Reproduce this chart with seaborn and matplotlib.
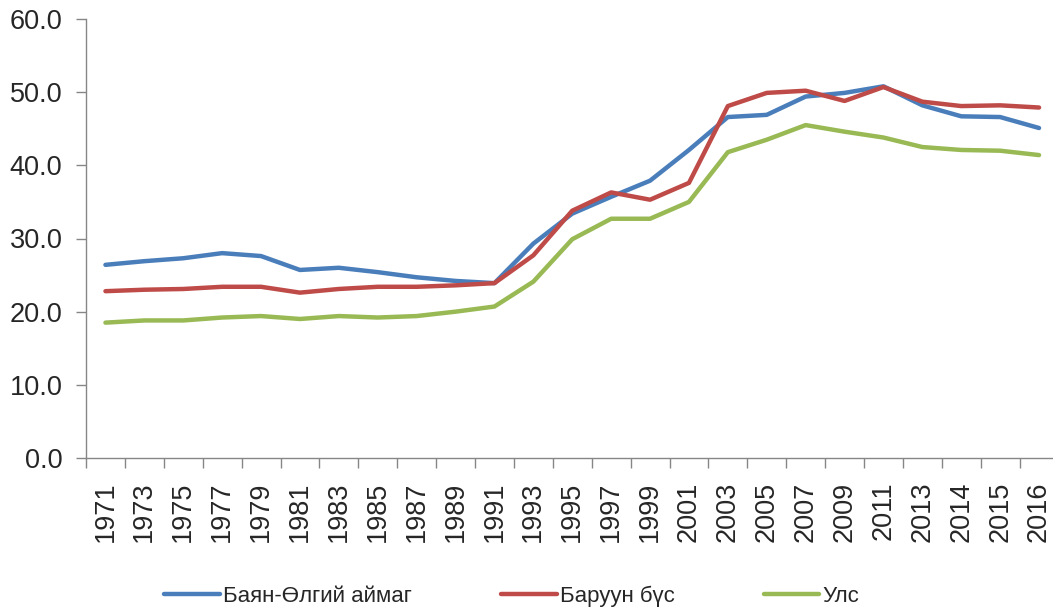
import numpy as np
import pandas as pd
import seaborn as sns
import matplotlib.pyplot as plt
from matplotlib.ticker import FixedLocator

# ---------------------- Data ------------------------
years = ["1971", "1973", "1975", "1977", "1979", "1981", "1983", "1985", "1987",
         "1989", "1991", "1993", "1995", "1997", "1999", "2001", "2003", "2005",
         "2007", "2009", "2011", "2013", "2014", "2015", "2016"]

bayan_ulgii = [26.4, 26.9, 27.3, 28.0, 27.6, 25.7, 26.0, 25.4, 24.7, 24.2, 23.9,
               29.3, 33.4, 35.7, 37.9, 42.1, 46.6, 46.9, 49.4, 49.9, 50.8,
               48.2, 46.7, 46.6, 45.1]

baruun_bus = [22.8, 23.0, 23.1, 23.4, 23.4, 22.6, 23.1, 23.4, 23.4, 23.6, 23.9,
              27.7, 33.8, 36.3, 35.3, 37.6, 48.1, 49.9, 50.2, 48.8, 50.7,
              48.7, 48.1, 48.2, 47.9]

uls = [18.5, 18.8, 18.8, 19.2, 19.4, 19.0, 19.4, 19.2, 19.4, 20.0, 20.7,
       24.1, 29.9, 32.7, 32.7, 35.0, 41.8, 43.5, 45.5, 44.6, 43.8,
       42.5, 42.1, 42.0, 41.4]

series_names = ["Баян-Өлгий аймаг", "Баруун бүс", "Улс"]
colors = ["#4A7EBB", "#BE4B48", "#98B954"]

df = pd.DataFrame({
    "year": years * 3,
    "value": bayan_ulgii + baruun_bus + uls,
    "series": np.repeat(series_names, len(years)),
})

# ------------------ Plot ----------------------
sns.set_style("white")
plt.rcParams["font.family"] = ["Liberation Sans", "DejaVu Sans"]

fig = plt.figure(figsize=(10.53, 6.07), dpi=100)
ax = fig.add_axes([86 / 1053, 149 / 607, 972.5 / 1053, 439 / 607])

sns.lineplot(data=df, x="year", y="value", hue="series", hue_order=series_names,
             palette=colors, linewidth=3.2, sort=False, ax=ax)

n = len(years)
ax.set_xlim(-0.5, n - 0.5)
ax.set_ylim(0, 60)
ax.set_yticks(np.arange(0, 61, 10))
ax.set_yticklabels([f"{v:.1f}" for v in np.arange(0, 61, 10)])
ax.set_xticks(range(n))
ax.set_xticklabels(years, rotation=90)
ax.xaxis.set_minor_locator(FixedLocator(np.arange(-0.5, n, 1.0)))

ax.tick_params(axis="x", which="major", length=0, pad=17, labelsize=19.5)
ax.tick_params(axis="x", which="minor", length=7, width=1, color="#868686", bottom=True)
ax.tick_params(axis="y", length=7, width=1, color="#868686", pad=10, labelsize=19.5, left=True)

for side in ["top", "right"]:
    ax.spines[side].set_visible(False)
for side in ["left", "bottom"]:
    ax.spines[side].set_color("#868686")
    ax.spines[side].set_linewidth(1)

ax.set_xlabel("")
ax.set_ylabel("")
ax.grid(False)

ax.legend(loc="center", bbox_to_anchor=(512 / 1053, 11 / 607),
          bbox_transform=fig.transFigure, ncol=3, frameon=False,
          fontsize=16, handlelength=2.5, handletextpad=0.15, columnspacing=4.0)

fig.savefig("out.png", dpi=100)
